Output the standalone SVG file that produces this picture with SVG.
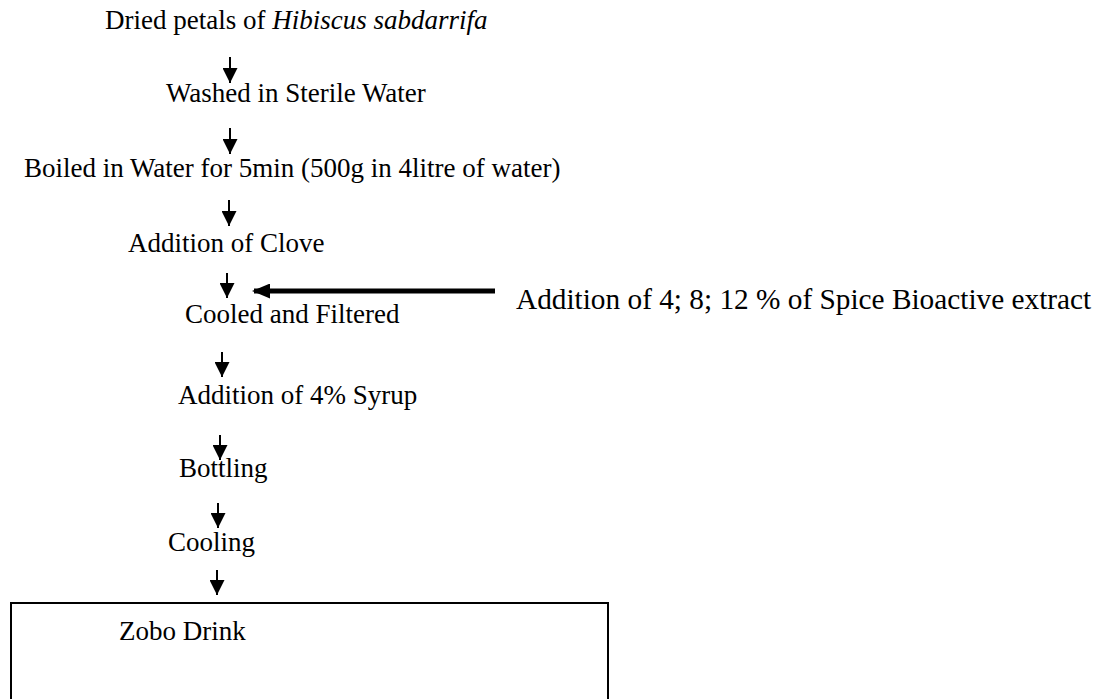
<svg xmlns="http://www.w3.org/2000/svg" width="1109" height="699" viewBox="0 0 1109 699">
<style>
text{font-family:"Liberation Serif","Times New Roman",serif;font-size:27px;fill:#000}
.big{font-size:29.3px}
.c{stroke:#000;stroke-width:2;fill:none}
.h{stroke:#000;stroke-width:5;fill:none}
.box{fill:none;stroke:#000;stroke-width:2}
</style>
<defs>
<marker id="ah" markerUnits="userSpaceOnUse" markerWidth="15" markerHeight="15" viewBox="0 0 15 15" refX="15" refY="7.5" orient="auto">
<path d="M0,0 L15,7.5 L0,15 z" fill="#000"/>
</marker>
<marker id="ahb" markerUnits="userSpaceOnUse" markerWidth="18" markerHeight="15" viewBox="0 0 18 15" refX="16" refY="7.5" orient="auto">
<path d="M0,0 L18,7.5 L0,15 z" fill="#000"/>
</marker>
</defs>
<g id="connectors">
<line class="c" x1="230" y1="57" x2="230" y2="83" marker-end="url(#ah)"/>
<line class="c" x1="230" y1="128" x2="230" y2="154" marker-end="url(#ah)"/>
<line class="c" x1="229" y1="200" x2="229" y2="226" marker-end="url(#ah)"/>
<line class="c" x1="227" y1="273" x2="227" y2="298" marker-end="url(#ah)"/>
<line class="h" x1="495" y1="291" x2="254" y2="291" marker-end="url(#ahb)"/>
<line class="c" x1="222" y1="352" x2="222" y2="377" marker-end="url(#ah)"/>
<line class="c" x1="220" y1="435" x2="220" y2="460" marker-end="url(#ah)"/>
<line class="c" x1="218" y1="503" x2="218" y2="528" marker-end="url(#ah)"/>
<line class="c" x1="217" y1="570" x2="217" y2="595" marker-end="url(#ah)"/>
</g>
<g id="n1"><text x="105" y="29">Dried petals of <tspan font-style="italic">Hibiscus sabdarrifa</tspan></text></g>
<g id="n2"><text x="166" y="102">Washed in Sterile Water</text></g>
<g id="n3"><text x="24" y="177">Boiled in Water for 5min (500g in 4litre of water)</text></g>
<g id="n4"><text x="128" y="252">Addition of Clove</text></g>
<g id="n5"><text x="185" y="323">Cooled and Filtered</text></g>
<g id="n6"><text class="big" x="516" y="309">Addition of 4; 8; 12 % of Spice Bioactive extract</text></g>
<g id="n7"><text x="178" y="404">Addition of 4% Syrup</text></g>
<g id="n8"><text x="179" y="477">Bottling</text></g>
<g id="n9"><text x="168" y="551">Cooling</text></g>
<g id="n10">
<rect class="box" x="11" y="603" width="597" height="110"/>
<text x="119" y="640">Zobo Drink</text>
</g>
</svg>
